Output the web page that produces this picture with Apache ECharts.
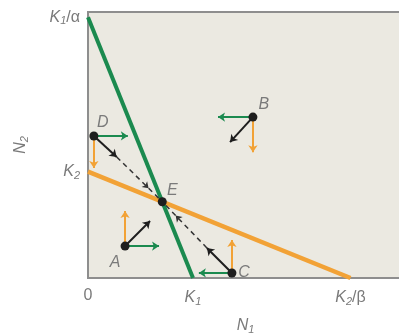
<!DOCTYPE html>
<html><head><meta charset="utf-8">
<script src="https://cdn.jsdelivr.net/npm/echarts@6/dist/echarts.min.js"></script>
<style>html,body{margin:0;padding:0;background:#fff}#c{width:399px;height:336px}</style>
</head><body><div id="c"></div>
<script>
// Lotka–Volterra competition: zero-growth isoclines of species 1 (green) and species 2 (orange)
const K1 = 3.4, K1overAlpha = 9.8, K2 = 4.0, K2overBeta = 8.5;
const N1_MAX = 10.2, N2_MAX = 10;

// sample population states
const pointNames = ['A', 'B', 'C', 'D'];
const pointN1 = [1.20, 5.34, 4.66, 0.19];
const pointN2 = [1.20, 6.05, 0.19, 5.34];
// change of N1 (green), change of N2 (orange), combined change (black)
const dN1 = [1.10, -1.13, -1.07, 1.10];
const dN2 = [1.32, -1.32, 1.24, -1.20];
const netDN1 = [0.81, -0.74, -0.81, 0.74];
const netDN2 = [0.94, -0.94, 0.94, -0.79];

// equilibrium E where the two isoclines cross
const sG = -K1overAlpha / K1, sO = -K2 / K2overBeta;
const eN1 = (K2 - K1overAlpha) / (sG - sO);
const eN2 = K2 + sO * eN1;

const GREEN = '#1b8a4f', ORANGE = '#f2a236', INK = '#1e1e1e', GREY = '#7a7a7a';
const FONT = 'Liberation Sans';
const rich = {
  i: { fontFamily: FONT, fontStyle: 'italic', fontSize: 16, color: GREY },
  s: { fontFamily: FONT, fontStyle: 'italic', fontSize: 11, color: GREY, padding: [8, 0, 0, 0] },
  g: { fontFamily: FONT, fontSize: 16, color: GREY }
};
// pixel offsets of the point letters from their dots (A, B, C, D, E)
const letterOffsets = [[-10, 16], [11, -13], [12, 0], [9, -13], [10, -11]];

const arrow = (x, y, dx, dy) => ({ coords: [[x, y], [x + dx, y + dy]] });
const greenArrows = pointNames.map((_, k) => arrow(pointN1[k], pointN2[k], dN1[k], 0));
const orangeArrows = pointNames.map((_, k) => arrow(pointN1[k], pointN2[k], 0, dN2[k]));
const blackArrows = pointNames.map((_, k) => arrow(pointN1[k], pointN2[k], netDN1[k], netDN2[k]));

// dashed trajectories from D and C towards E, with a small head part way along
const dashHead = [], dashTail = [];
[3, 2].forEach(k => {
  const x0 = pointN1[k] + netDN1[k], y0 = pointN2[k] + netDN2[k];
  const xm = x0 + 0.7 * (eN1 - x0), ym = y0 + 0.7 * (eN2 - y0);
  dashHead.push({ coords: [[x0, y0], [xm, ym]] });
  dashTail.push({ coords: [[xm, ym], [eN1, eN2]] });
});

const near = (a, b) => Math.abs(a - b) < 1e-6;
const dotNames = pointNames.concat(['E']);
const dotN1 = pointN1.concat([eN1]);
const dotN2 = pointN2.concat([eN2]);

const chart = echarts.init(document.getElementById('c'));
chart.setOption({
  animation: false,
  grid: { left: 88, top: 12, right: -4, bottom: 58, outerBoundsMode: 'none', containLabel: false,
    show: true, backgroundColor: '#ebe9e1', borderColor: '#8e8e8e', borderWidth: 2 },
  xAxis: {
    type: 'value', min: 0, max: N1_MAX,
    name: '{i|N}{s|1}', nameLocation: 'middle', nameGap: 38,
    nameTextStyle: { rich },
    splitLine: { show: false }, axisTick: { show: false },
    axisLine: { show: false },
    axisLabel: {
      customValues: [0, K1, K2overBeta], margin: 10, rich,
      formatter: v => near(v, 0) ? '{g|0}' : near(v, K1) ? '{i|K}{s|1}' : '{i|K}{s|2}{g|/β}'
    }
  },
  yAxis: {
    type: 'value', min: 0, max: N2_MAX,
    name: '{i|N}{s|2}', nameLocation: 'middle', nameGap: 58,
    nameTextStyle: { rich },
    splitLine: { show: false }, axisTick: { show: false },
    axisLine: { show: false },
    axisLabel: {
      customValues: [K2, K1overAlpha], margin: 8, rich,
      formatter: v => near(v, K2) ? '{i|K}{s|2}' : '{i|K}{s|1}{g|/α}'
    }
  },
  series: [
    { type: 'line', data: [[0, K2], [K2overBeta, 0]], symbol: 'none', lineStyle: { color: ORANGE, width: 4.5 }, z: 2 },
    { type: 'line', data: [[0, K1overAlpha], [K1, 0]], symbol: 'none', lineStyle: { color: GREEN, width: 4 }, z: 3 },
    { type: 'lines', coordinateSystem: 'cartesian2d', data: dashHead, symbol: ['none', 'arrow'], symbolSize: 6,
      lineStyle: { color: '#333', width: 1.5, type: [5, 4], opacity: 1 }, z: 4 },
    { type: 'lines', coordinateSystem: 'cartesian2d', data: dashTail, symbol: 'none',
      lineStyle: { color: '#333', width: 1.5, type: [5, 4], opacity: 1 }, z: 4 },
    { type: 'lines', coordinateSystem: 'cartesian2d', data: greenArrows, symbol: ['none', 'arrow'], symbolSize: 7,
      lineStyle: { color: GREEN, width: 2, opacity: 1 }, z: 5 },
    { type: 'lines', coordinateSystem: 'cartesian2d', data: orangeArrows, symbol: ['none', 'arrow'], symbolSize: 7,
      lineStyle: { color: ORANGE, width: 2, opacity: 1 }, z: 5 },
    { type: 'lines', coordinateSystem: 'cartesian2d', data: blackArrows, symbol: ['none', 'arrow'], symbolSize: 7,
      lineStyle: { color: INK, width: 2, opacity: 1 }, z: 6 },
    {
      type: 'scatter', symbolSize: 9, itemStyle: { color: INK, opacity: 1 }, z: 7,
      emphasis: { disabled: true },
      data: dotNames.map((n, k) => ({
        value: [dotN1[k], dotN2[k]], name: n,
        label: { show: true, position: 'inside', offset: letterOffsets[k], formatter: '{i|' + n + '}', rich }
      }))
    }
  ]
});
</script></body></html>
